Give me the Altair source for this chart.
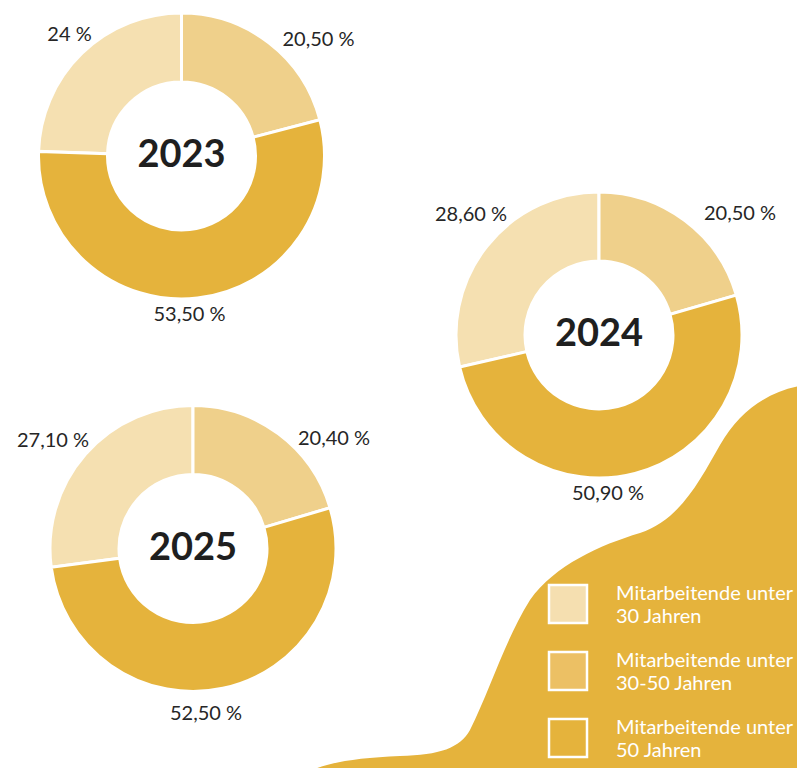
import altair as alt
import pandas as pd

# ---------------- data ----------------
years = ["2023", "2024", "2025"]
categories = [
    "Mitarbeitende unter 30 Jahren",
    "Mitarbeitende unter 30-50 Jahren",
    "Mitarbeitende unter 50 Jahren",
]
legend_text = [
    "Mitarbeitende unter\n30 Jahren",
    "Mitarbeitende unter\n30-50 Jahren",
    "Mitarbeitende unter\n50 Jahren",
]
share_2023 = [24.0, 20.5, 53.5]
share_2024 = [28.6, 20.5, 50.9]
share_2025 = [27.1, 20.4, 52.5]
label_2023 = ["24 %", "20,50 %", "53,50 %"]
label_2024 = ["28,60 %", "20,50 %", "50,90 %"]
label_2025 = ["27,10 %", "20,40 %", "52,50 %"]
clockwise_rank = [2, 0, 1]  # slice order starting at 12 o'clock

# ---------------- style / layout ----------------
slice_colors = ["#F5E0B1", "#EFD08B", "#E5B33C"]
legend_colors = ["#F5DFB0", "#ECC064", "#E5B33C"]
BG_GOLD = "#E5B33C"
TEXT = "#262626"
FONT = "Lato"
W, H = 789, 760
OFF = 8  # page margin: reference pixel -> chart pixel
centers = {"2023": (181.5, 156), "2024": (599, 335), "2025": (193, 548.5)}
label_offsets = {
    "2023": [(-112, -121), (137, -116), (8, 159)],
    "2024": [(-128, -120), (141, -121), (9, 159)],
    "2025": [(-140, -108), (141, -110), (13, 165)],
}
R_OUT, R_IN = 143, 74
legend_x, legend_y0, legend_step = 568, 604, 67

shares = {"2023": share_2023, "2024": share_2024, "2025": share_2025}
labels = {"2023": label_2023, "2024": label_2024, "2025": label_2025}

rows = []
for y in years:
    cx, cy = centers[y]
    for i, c in enumerate(categories):
        dx, dy = label_offsets[y][i]
        rows.append(dict(year=y, category=c, value=shares[y][i],
                         rank=clockwise_rank[i], label=labels[y][i],
                         lx=cx + dx - OFF, ly=cy + dy - OFF))
df = pd.DataFrame(rows)

color_scale = alt.Scale(domain=categories, range=slice_colors)

# decorative blob (custom symbol path, size=4 -> unit scale = 1px), chart pixel coords
blob_path = ("M 280 800 L 292 768 C 312 756, 342 750, 392 748 "
             "C 432 747, 452 740, 462 722 C 482 682, 497 632, 522 592 "
             "C 547 557, 592 537, 632 525 C 672 512, 692 472, 712 437 "
             "C 732 402, 762 382, 797 377 L 840 377 L 840 800 Z")
blob = alt.Chart(pd.DataFrame({"k": [0]})).mark_point(
    shape=blob_path, size=4, filled=True, fill=BG_GOLD, opacity=1, strokeWidth=0
).encode(x=alt.value(0), y=alt.value(0))

layers = [blob]
for y in years:
    cx, cy = centers[y]
    base = alt.Chart(df).transform_filter(alt.datum.year == y)
    arc = base.mark_arc(outerRadius=R_OUT, innerRadius=R_IN, stroke="white",
                        strokeWidth=3).encode(
        x=alt.value(cx - OFF), y=alt.value(cy - OFF),
        theta=alt.Theta("value:Q", stack="normalize"),
        color=alt.Color("category:N", scale=color_scale, legend=None),
        order=alt.Order("rank:Q"),
    )
    lab = base.mark_text(font=FONT, fontSize=20, color=TEXT, baseline="middle",
                         align="center").encode(
        x=alt.X("lx:Q", scale=None, axis=None),
        y=alt.Y("ly:Q", scale=None, axis=None),
        text="label:N",
    )
    yr = alt.Chart(pd.DataFrame({"year": [y]})).mark_text(
        font=FONT, fontSize=38, fontWeight="bold", color="#1f1f1f",
        baseline="middle", align="center", dy=0
    ).encode(x=alt.value(cx - OFF), y=alt.value(cy - OFF), text="year:N")
    layers += [arc, lab, yr]

leg_df = pd.DataFrame({
    "category": categories,
    "text": legend_text,
    "sx": [legend_x - OFF] * 3,
    "sy": [legend_y0 + legend_step * i - OFF for i in range(3)],
})
leg_df["tx"] = leg_df["sx"] + 48
leg_df["ty"] = leg_df["sy"] - 4

leg_sq = alt.Chart(leg_df).mark_square(size=38 * 38, stroke="white", strokeWidth=2.5,
                                       opacity=1, filled=True).encode(
    x=alt.X("sx:Q", scale=None, axis=None),
    y=alt.Y("sy:Q", scale=None, axis=None),
    fill=alt.Fill("category:N", scale=alt.Scale(domain=categories, range=legend_colors),
                  legend=None),
)
leg_tx = alt.Chart(leg_df).mark_text(font=FONT, fontSize=20, color="white", align="left",
                                     baseline="alphabetic", lineBreak="\n",
                                     lineHeight=23).encode(
    x=alt.X("tx:Q", scale=None, axis=None),
    y=alt.Y("ty:Q", scale=None, axis=None),
    text="text:N",
)
layers += [leg_sq, leg_tx]

chart = alt.layer(*layers).resolve_scale(color="independent", fill="independent").properties(
    width=W, height=H, padding=0, autosize=alt.AutoSizeParams(type="none"),
    background="white",
).configure_view(strokeWidth=0)

chart.save("out.html", embed_options={"renderer": "svg", "actions": False})
